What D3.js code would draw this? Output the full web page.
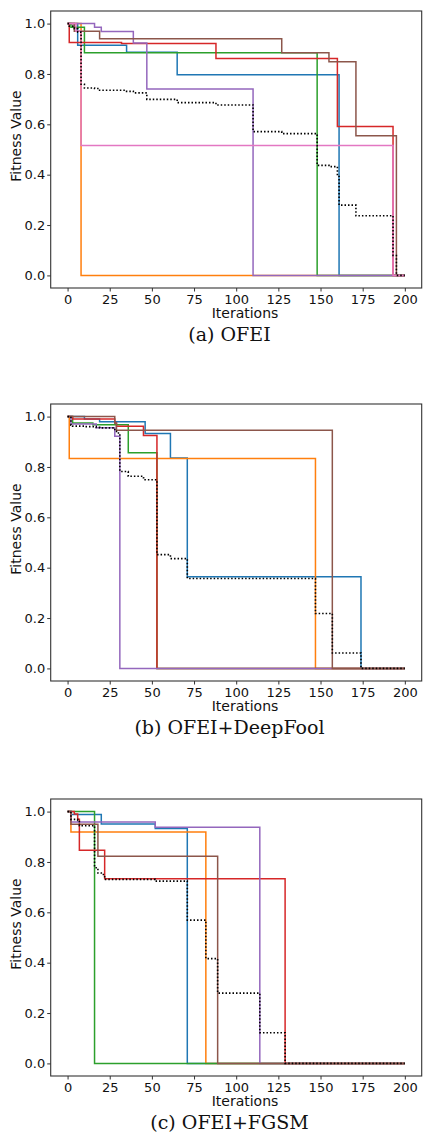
<!DOCTYPE html>
<html>
<head>
<meta charset="utf-8">
<script src="https://cdn.jsdelivr.net/npm/d3@7"></script>
<style>
  body { margin: 0; background: #fff; }
  svg { display: block; }
</style>
</head>
<body>
<div id="chart"></div>
<script>
// step series: [iteration, fitness] breakpoints, value holds until the next one
var xTicks = [0, 25, 50, 75, 100, 125, 150, 175, 200];
var yTicks = [0, 0.2, 0.4, 0.6, 0.8, 1.0];
var colors = ["#1f77b4", "#ff7f0e", "#2ca02c", "#d62728", "#9467bd", "#8c564b", "#e377c2"];

// (a) OFEI
var ofeiBlue   = [[0,1],[6,0.914],[35,0.886],[65,0.797],[161,0],[200,0]];
var ofeiOrange = [[0,1],[8,0],[200,0]];
var ofeiGreen  = [[0,1],[2,0.985],[10,0.884],[148,0],[200,0]];
var ofeiRed    = [[0,1],[1,0.925],[32,0.921],[88,0.861],[160,0.591],[193,0],[200,0]];
var ofeiPurple = [[0,1],[16,0.985],[20,0.969],[39,0.923],[47,0.74],[110,0],[200,0]];
var ofeiBrown  = [[0,1],[4,0.97],[19,0.94],[127,0.884],[155,0.848],[171,0.555],[195,0],[200,0]];
var ofeiPink   = [[0,1],[5,0.97],[8,0.516],[193,0],[200,0]];
var ofeiMean   = [[0,1],[1,0.99],[4,0.98],[6,0.966],[8,0.759],[10,0.744],[16,0.742],[19,0.735],[35,0.731],[39,0.725],[47,0.699],[65,0.686],[88,0.677],[110,0.571],[127,0.563],[148,0.437],[155,0.432],[160,0.393],[161,0.279],[171,0.237],[193,0.079],[195,0],[200,0]];

// (b) OFEI+DeepFool
var dfBlue   = [[0,1],[10,0.99],[19,0.98],[46,0.933],[61,0.836],[71,0.364],[174,0],[200,0]];
var dfOrange = [[0,1],[1,0.834],[147,0],[200,0]];
var dfGreen  = [[0,1],[3,0.975],[15,0.968],[36,0.856],[53,0],[200,0]];
var dfRed    = [[0,1],[3,0.99],[28,0.975],[29,0.962],[45,0.925],[53,0],[200,0]];
var dfPurple = [[0,1],[2,0.971],[17,0.956],[28,0.922],[31,0],[200,0]];
var dfBrown  = [[0,1],[28,0.975],[29,0.946],[157,0],[200,0]];
var dfMean   = [[0,1],[2,0.966],[3,0.962],[10,0.96],[17,0.957],[19,0.955],[28,0.942],[29,0.935],[31,0.782],[36,0.763],[45,0.757],[46,0.749],[53,0.452],[61,0.436],[71,0.357],[147,0.218],[157,0.061],[174,0],[200,0]];

// (c) OFEI+FGSM
var fgBlue   = [[0,1],[2,0.988],[20,0.951],[52,0.933],[71,0],[200,0]];
var fgOrange = [[0,1],[2,0.919],[82,0],[200,0]];
var fgGreen  = [[0,1],[16,0],[200,0]];
var fgRed    = [[0,1],[4,0.99],[6,0.97],[7,0.846],[22,0.733],[129,0],[200,0]];
var fgPurple = [[0,1],[2,0.959],[52,0.938],[114,0],[200,0]];
var fgBrown  = [[0,1],[2,0.95],[18,0.823],[89,0],[200,0]];
var fgMean   = [[0,1],[2,0.969],[6,0.965],[7,0.944],[16,0.777],[18,0.756],[20,0.75],[22,0.731],[52,0.724],[71,0.569],[82,0.416],[89,0.279],[114,0.122],[129,0],[200,0]];

var W = 424, H = 1136;
var left = 50.7, right = 421.7, ph = 277;

var svg = d3.select("#chart").append("svg")
    .attr("width", W)
    .attr("height", H);

var x = d3.scaleLinear().domain([-10, 210]).range([left, right]);

function panel(top, series, mean, caption) {
  var y = d3.scaleLinear().domain([-0.05, 1.05]).range([top + ph, top]);
  var g = svg.append("g");

  var line = d3.line()
      .x(function(d) { return x(d[0]); })
      .y(function(d) { return y(d[1]); })
      .curve(d3.curveStepAfter);

  series.forEach(function(s, i) {
    g.append("path")
      .datum(s)
      .attr("fill", "none")
      .attr("stroke", colors[i])
      .attr("stroke-width", 1.5)
      .attr("d", line);
  });

  g.append("path")
    .datum(mean)
    .attr("fill", "none")
    .attr("stroke", "#000")
    .attr("stroke-width", 1.6)
    .attr("stroke-dasharray", "1.5,2")
    .attr("d", line);

  // frame
  g.append("rect")
    .attr("x", left).attr("y", top)
    .attr("width", right - left).attr("height", ph)
    .attr("fill", "none")
    .attr("stroke", "#333")
    .attr("stroke-width", 1.1);

  var xa = g.append("g")
    .attr("transform", "translate(0," + (top + ph) + ")")
    .call(d3.axisBottom(x).tickValues(xTicks).tickSize(3.5).tickPadding(3).tickFormat(d3.format("d")));
  var ya = g.append("g")
    .attr("transform", "translate(" + left + ",0)")
    .call(d3.axisLeft(y).tickValues(yTicks).tickSize(3.5).tickPadding(2).tickFormat(d3.format(".1f")));
  [xa, ya].forEach(function(a) {
    a.select(".domain").remove();
    a.selectAll("line").attr("stroke", "#333");
    a.selectAll("text")
      .attr("fill", "#111")
      .style("font-family", "DejaVu Sans")
      .style("font-size", "13px");
  });

  g.append("text")
    .attr("x", 245)
    .attr("y", top + ph + 30)
    .attr("text-anchor", "middle")
    .style("font-family", "DejaVu Sans")
    .style("font-size", "14px")
    .attr("fill", "#111")
    .text("Iterations");

  g.append("text")
    .attr("transform", "translate(21," + (top + ph / 2 - 13.5) + ")rotate(-90)")
    .attr("text-anchor", "middle")
    .style("font-family", "DejaVu Sans")
    .style("font-size", "14px")
    .attr("fill", "#111")
    .text("Fitness Value");

  g.append("text")
    .attr("x", 229.5)
    .attr("y", top + ph + 53)
    .attr("text-anchor", "middle")
    .style("font-family", "DejaVu Serif")
    .style("font-size", "19px")
    .attr("fill", "#111")
    .text(caption);
}

panel(11, [ofeiBlue, ofeiOrange, ofeiGreen, ofeiRed, ofeiPurple, ofeiBrown, ofeiPink], ofeiMean, "(a) OFEI");
panel(404, [dfBlue, dfOrange, dfGreen, dfRed, dfPurple, dfBrown], dfMean, "(b) OFEI+DeepFool");
panel(799, [fgBlue, fgOrange, fgGreen, fgRed, fgPurple, fgBrown], fgMean, "(c) OFEI+FGSM");
</script>
</body>
</html>
